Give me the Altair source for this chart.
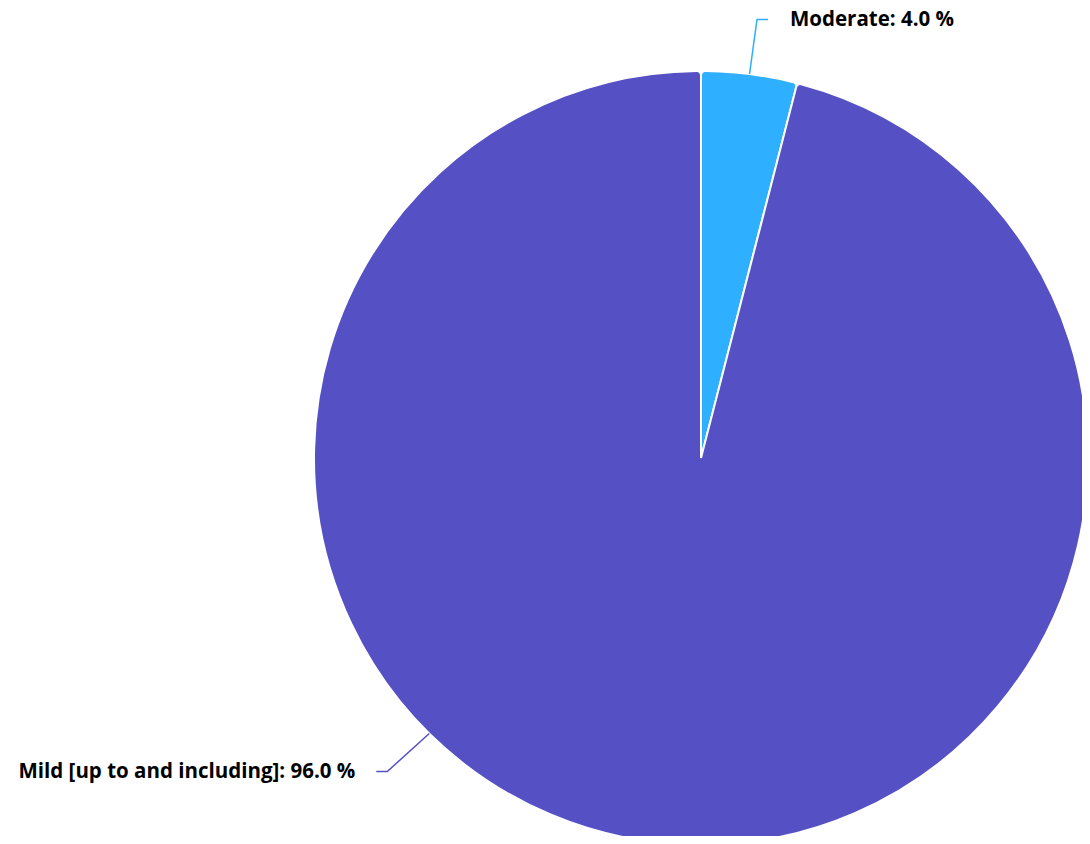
import math
import altair as alt
import pandas as pd

categories = ["Moderate", "Mild [up to and including]"]
values = [4.0, 96.0]
colors = ["#2EAFFF", "#5551C5"]

W, H = 1074, 828
CX, CY, R = 693, 450, 387

pie_df = pd.DataFrame({"category": categories, "value": values, "order": [0, 1]})
pie_df["label"] = [f"{c}: {v:.1f} %" for c, v in zip(categories, values)]

# leader lines: start on the slice edge, elbow, end
total = sum(values)
mod_mid = (values[0] / 2) / total * 2 * math.pi
mild_anchor = math.radians(224.6)

def edge(a):
    return CX + R * math.sin(a), CY - R * math.cos(a)

m0 = edge(mod_mid)
d0 = edge(mild_anchor)
TOP_Y = 11.5
lead_rows = [
    (categories[0], 0, m0[0], m0[1]),
    (categories[0], 1, m0[0] + 7.5, TOP_Y),
    (categories[0], 2, m0[0] + 18.5, TOP_Y),
    (categories[1], 0, d0[0], d0[1]),
    (categories[1], 1, d0[0] - 42, d0[1] + 38),
    (categories[1], 2, d0[0] - 53, d0[1] + 38),
]
lead_df = pd.DataFrame(lead_rows, columns=["category", "step", "x", "y"])
text_df = pd.DataFrame({
    "category": categories,
    "label": pie_df["label"],
    "x": [m0[0] + 40.5, d0[0] - 74],
    "y": [TOP_Y, d0[1] + 38],
    "align": ["left", "right"],
})

color_scale = alt.Scale(domain=categories, range=colors)

pie = alt.Chart(pie_df).mark_arc(
    outerRadius=R, stroke="white", strokeWidth=2, cornerRadius=4
).encode(
    theta=alt.Theta("value:Q", stack=True),
    order=alt.Order("order:Q"),
    color=alt.Color("category:N", scale=color_scale, legend=None),
    x=alt.value(CX),
    y=alt.value(CY),
)

lines = alt.Chart(lead_df).mark_line(strokeWidth=1.5).encode(
    x=alt.X("x:Q", scale=None),
    y=alt.Y("y:Q", scale=None),
    detail="category:N",
    order="step:Q",
    color=alt.Color("category:N", scale=color_scale, legend=None),
)

FS = 20.5
txt_left = alt.Chart(text_df[text_df["align"] == "left"]).mark_text(
    align="left", baseline="middle", font="Open Sans", fontWeight="bold", fontSize=FS, color="black"
).encode(x=alt.X("x:Q", scale=None), y=alt.Y("y:Q", scale=None), text="label:N")

txt_right = alt.Chart(text_df[text_df["align"] == "right"]).mark_text(
    align="right", baseline="middle", font="Open Sans", fontWeight="bold", fontSize=FS, color="black"
).encode(x=alt.X("x:Q", scale=None), y=alt.Y("y:Q", scale=None), text="label:N")

chart = alt.layer(pie, lines, txt_left, txt_right).properties(
    width=W, height=H, autosize=alt.AutoSizeParams(type="none"), padding=0
).configure_view(stroke=None)

chart.save("out.html", embed_options={"renderer": "svg", "actions": False})
